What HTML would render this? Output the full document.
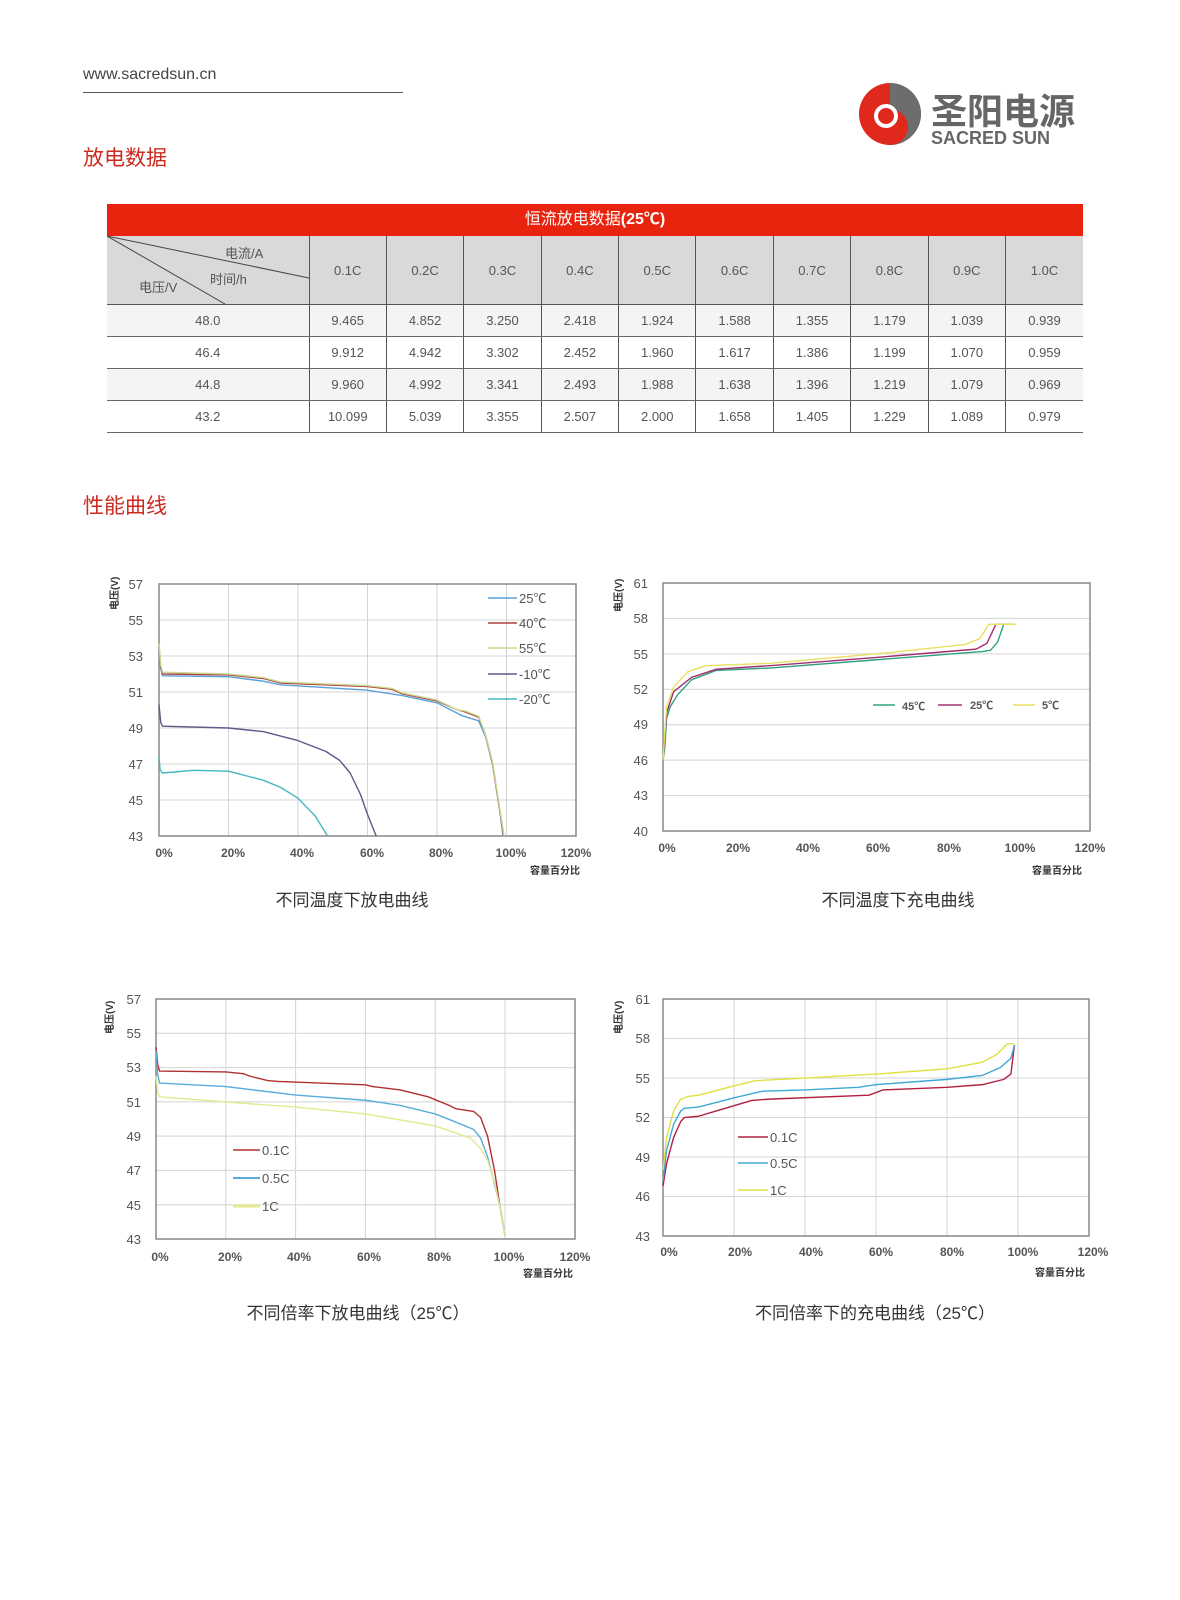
<!DOCTYPE html>
<html><head><meta charset="utf-8">
<style>
body{margin:0;background:#fff;}
#p{position:relative;width:1180px;height:1600px;overflow:hidden;font-family:"Liberation Sans","Noto Sans CJK SC",sans-serif;}
.abs{position:absolute;}
table{border-collapse:collapse;position:absolute;left:107px;top:204px;width:976px;font-size:13px;color:#555;table-layout:fixed;}
td{text-align:center;border-left:1px solid #555;padding:0;}
td:first-child{border-left:none;}
tr.r td{height:31px;border-bottom:1px solid #666;}
</style></head><body><div id="p">
<div class="abs" style="left:83px;top:66px;font-size:16px;color:#444;">www.sacredsun.cn</div>
<div class="abs" style="left:83px;top:92px;width:320px;height:1px;background:#555;"></div>
<div class="abs" style="left:83px;top:142px;font-size:21px;color:#cc2a1f;">放电数据</div>
<div class="abs" style="left:83px;top:490px;font-size:21px;color:#cc2a1f;">性能曲线</div>

<svg class="abs" style="left:0;top:0" width="1180" height="200">
 <circle cx="890" cy="114" r="31" fill="#e0281c"/>
 <path d="M890 83 A31 31 0 0 1 921 114 A31 31 0 0 1 890 145 A18 18 0 0 0 890 109 Z" fill="#6d6d6d"/>
 <circle cx="886" cy="116" r="12" fill="#fff"/>
 <circle cx="886" cy="116" r="8" fill="#e0281c"/>
 <text x="931" y="124" font-size="36" font-weight="bold" fill="#666" font-family="Noto Sans CJK SC,sans-serif">圣阳电源</text>
 <text x="931" y="144" font-size="18" font-weight="bold" fill="#666" font-family="Liberation Sans,sans-serif">SACRED SUN</text>
</svg>

<div class="abs" style="left:107px;top:204px;width:976px;height:32px;background:#e8230e;color:#fff;font-size:16px;line-height:32px;text-align:center;">恒流放电数据<b>(25℃)</b></div>
<table style="top:236px;">
<colgroup><col style="width:202px"><col span="10"></colgroup>
<tr style="background:#d9d9d9"><td style="height:68px;border-bottom:1px solid #555;position:relative;">
<svg style="position:absolute;left:0;top:0" width="202" height="68"><line x1="0" y1="0" x2="202" y2="42" stroke="#444"/><line x1="0" y1="0" x2="118" y2="68" stroke="#444"/>
<text x="118" y="22" font-size="13" fill="#555">电流/A</text><text x="103" y="48" font-size="13" fill="#555">时间/h</text><text x="32" y="56" font-size="13" fill="#555">电压/V</text></svg></td>
<td style="border-bottom:1px solid #555">0.1C</td><td style="border-bottom:1px solid #555">0.2C</td><td style="border-bottom:1px solid #555">0.3C</td><td style="border-bottom:1px solid #555">0.4C</td><td style="border-bottom:1px solid #555">0.5C</td><td style="border-bottom:1px solid #555">0.6C</td><td style="border-bottom:1px solid #555">0.7C</td><td style="border-bottom:1px solid #555">0.8C</td><td style="border-bottom:1px solid #555">0.9C</td><td style="border-bottom:1px solid #555">1.0C</td></tr>
<tr class="r" style="background:#f4f4f4"><td>48.0</td><td>9.465</td><td>4.852</td><td>3.250</td><td>2.418</td><td>1.924</td><td>1.588</td><td>1.355</td><td>1.179</td><td>1.039</td><td>0.939</td></tr>
<tr class="r"><td>46.4</td><td>9.912</td><td>4.942</td><td>3.302</td><td>2.452</td><td>1.960</td><td>1.617</td><td>1.386</td><td>1.199</td><td>1.070</td><td>0.959</td></tr>
<tr class="r" style="background:#f4f4f4"><td>44.8</td><td>9.960</td><td>4.992</td><td>3.341</td><td>2.493</td><td>1.988</td><td>1.638</td><td>1.396</td><td>1.219</td><td>1.079</td><td>0.969</td></tr>
<tr class="r"><td>43.2</td><td>10.099</td><td>5.039</td><td>3.355</td><td>2.507</td><td>2.000</td><td>1.658</td><td>1.405</td><td>1.229</td><td>1.089</td><td>0.979</td></tr>
</table>

<svg class="abs" style="left:0;top:540px" width="1180" height="800" viewBox="0 540 1180 800" font-family="Liberation Sans,Noto Sans CJK SC,sans-serif">
<style>.g{stroke:#d4d4d4;stroke-width:1;fill:none}.f{stroke:#888;stroke-width:1.5;fill:none}.c{fill:none;stroke-width:1.4;vector-effect:non-scaling-stroke;stroke-linejoin:round}.t{font-size:13px;fill:#555}.yl{font-size:13px;fill:#555;text-anchor:end}.xl{font-size:12px;fill:#555;text-anchor:middle;font-weight:bold}.ax{font-size:10px;font-weight:bold;fill:#333}.ti{font-size:17px;fill:#333;text-anchor:middle}</style>

<!-- Chart1 -->
<g class="g"><path d="M228.5 584V836M298 584V836M367.5 584V836M437 584V836M506.5 584V836M159 620H576M159 656H576M159 692H576M159 728H576M159 764H576M159 800H576"/></g>
<rect x="159" y="584" width="417" height="252" class="f"/>
<g class="yl"><text x="143" y="589">57</text><text x="143" y="625">55</text><text x="143" y="661">53</text><text x="143" y="697">51</text><text x="143" y="733">49</text><text x="143" y="769">47</text><text x="143" y="805">45</text><text x="143" y="841">43</text></g>
<g class="xl"><text x="164" y="857">0%</text><text x="233" y="857">20%</text><text x="302" y="857">40%</text><text x="372" y="857">60%</text><text x="441" y="857">80%</text><text x="511" y="857">100%</text><text x="576" y="857">120%</text></g>
<text class="ax" x="530" y="874">容量百分比</text>
<text class="ax" transform="translate(118,610) rotate(-90)">电压(V)</text>
<g transform="translate(159,1610) scale(3.475,-18)">
<polyline class="c" stroke="#5aa0d8" points="0,53.5 0.5,52.3 1,51.9 20,51.85 30,51.6 35,51.4 60,51.1 70,50.8 80,50.4 85,49.9 87,49.7 92,49.4 94,48.5 96,47 98,44.5 99,43"/>
<polyline class="c" stroke="#b04040" points="0,53.6 0.5,52.4 1,52 20,51.95 30,51.75 35,51.5 60,51.3 67,51.15 70,50.9 80,50.5 86,50 88,49.9 92,49.6 94,48.6 96,47 98,44.5 99.2,43"/>
<polyline class="c" stroke="#c8d890" points="0,53.7 0.5,52.5 1,52.1 20,52 30,51.8 35,51.55 60,51.35 67,51.2 70,50.95 80,50.55 86,50 88,49.95 92,49.65 94,48.6 96,47.1 98,44.6 99.3,43"/>
<polyline class="c" stroke="#5a5a8a" points="0,50.3 0.5,49.3 1,49.1 20,49 30,48.8 40,48.3 48,47.7 52,47.2 55,46.5 58,45.3 60,44.2 62.5,43"/>
<polyline class="c" stroke="#40b8c0" points="0,47.4 0.3,46.7 1,46.5 10,46.65 20,46.6 30,46.1 35,45.7 40,45.1 45,44.1 48.5,43"/>
</g>
<g stroke-width="1.4"><line x1="488" y1="598" x2="517" y2="598" stroke="#5aa0d8"/><line x1="488" y1="623" x2="517" y2="623" stroke="#b04040"/><line x1="488" y1="648" x2="517" y2="648" stroke="#c8d890"/><line x1="488" y1="674" x2="517" y2="674" stroke="#5a5a8a"/><line x1="488" y1="699" x2="517" y2="699" stroke="#40b8c0"/></g>
<g class="t"><text x="519" y="603">25℃</text><text x="519" y="628">40℃</text><text x="519" y="653">55℃</text><text x="519" y="679">-10℃</text><text x="519" y="704">-20℃</text></g>
<text class="ti" x="352" y="906">不同温度下放电曲线</text>

<!-- Chart2 -->
<g class="g" stroke="#d0d0d0"><path d="M663 618.4H1090M663 653.9H1090M663 689.3H1090M663 724.7H1090M663 760.1H1090M663 795.6H1090"/></g>
<rect x="663" y="583" width="427" height="248" class="f"/>
<g class="yl"><text x="648" y="588">61</text><text x="648" y="623">58</text><text x="648" y="659">55</text><text x="648" y="694">52</text><text x="648" y="729">49</text><text x="648" y="765">46</text><text x="648" y="800">43</text><text x="648" y="836">40</text></g>
<g class="xl"><text x="667" y="852">0%</text><text x="738" y="852">20%</text><text x="808" y="852">40%</text><text x="878" y="852">60%</text><text x="949" y="852">80%</text><text x="1020" y="852">100%</text><text x="1090" y="852">120%</text></g>
<text class="ax" x="1032" y="874">容量百分比</text>
<text class="ax" transform="translate(622,612) rotate(-90)">电压(V)</text>
<g transform="translate(663,1303.4) scale(3.56,-11.81)">
<polyline class="c" stroke="#30a080" points="0,46 0.5,47 1,49.5 2,50.5 4,51.5 8,52.8 15,53.6 30,53.8 60,54.5 90,55.2 92,55.3 94,56 95.7,57.5 98,57.5"/>
<polyline class="c" stroke="#a03070" points="0,46 1,50 3,51.8 8,53 15,53.7 30,54 60,54.7 88,55.4 91,55.9 93.5,57.5 96,57.5"/>
<polyline class="c" stroke="#e8e060" points="0,46 1,50.5 3,52.2 7,53.5 12,54 30,54.2 60,55 85,55.8 89,56.3 91.5,57.5 99,57.5"/>
</g>
<g stroke-width="1.4"><line x1="873" y1="705" x2="895" y2="705" stroke="#30a080"/><line x1="938" y1="705" x2="962" y2="705" stroke="#a03070"/><line x1="1013" y1="705" x2="1035" y2="705" stroke="#e8e060"/></g>
<g style="font-size:11px;fill:#555;font-weight:bold"><text x="902" y="710">45℃</text><text x="970" y="709">25℃</text><text x="1042" y="709">5℃</text></g>
<text class="ti" x="898" y="906">不同温度下充电曲线</text>

<!-- Chart3 -->
<g class="g"><path d="M225.8 999V1239M295.6 999V1239M365.4 999V1239M435.2 999V1239M505 999V1239M156 1033.3H575M156 1067.6H575M156 1101.9H575M156 1136.1H575M156 1170.4H575M156 1204.7H575"/></g>
<rect x="156" y="999" width="419" height="240" class="f"/>
<g class="yl"><text x="141" y="1004">57</text><text x="141" y="1038">55</text><text x="141" y="1072">53</text><text x="141" y="1107">51</text><text x="141" y="1141">49</text><text x="141" y="1175">47</text><text x="141" y="1210">45</text><text x="141" y="1244">43</text></g>
<g class="xl"><text x="160" y="1261">0%</text><text x="230" y="1261">20%</text><text x="299" y="1261">40%</text><text x="369" y="1261">60%</text><text x="439" y="1261">80%</text><text x="509" y="1261">100%</text><text x="575" y="1261">120%</text></g>
<text class="ax" x="523" y="1277">容量百分比</text>
<text class="ax" transform="translate(113,1034) rotate(-90)">电压(V)</text>
<g transform="translate(156,1976.1) scale(3.49,-17.14)">
<polyline class="c" stroke="#b03030" points="0,54.2 0.5,53.2 1,52.8 20,52.75 25,52.65 27,52.5 32,52.25 35,52.2 60,52 62,51.9 70,51.7 78,51.3 84,50.8 86,50.6 91,50.45 93,50.1 95,49 97,47 98.5,45 100,43.2"/>
<polyline class="c" stroke="#5aacdc" points="0,54 0.5,52.6 1,52.1 20,51.9 40,51.4 60,51.1 70,50.8 80,50.3 85,49.9 91,49.4 93,48.9 95,47.8 97,46.2 99,44.5 100,43.2"/>
<polyline class="c" stroke="#e4e890" points="0,52.5 0.5,51.6 1,51.3 20,51 40,50.7 60,50.3 80,49.6 90,48.9 93,48.3 95,47.6 97,46.3 99,44.5 100,43.2"/>
</g>
<g stroke-width="1.4"><line x1="233" y1="1150" x2="260" y2="1150" stroke="#b03030"/><line x1="233" y1="1178" x2="260" y2="1178" stroke="#5aacdc" stroke-width="2"/><line x1="233" y1="1206" x2="260" y2="1206" stroke="#e4e890" stroke-width="3"/></g>
<g class="t"><text x="262" y="1155">0.1C</text><text x="262" y="1183">0.5C</text><text x="262" y="1211">1C</text></g>
<text class="ti" x="358" y="1319">不同倍率下放电曲线（25℃）</text>

<!-- Chart4 -->
<g class="g"><path d="M734 999V1236M805 999V1236M876 999V1236M947 999V1236M1018 999V1236M663 1038.5H1089M663 1078H1089M663 1117.5H1089M663 1157H1089M663 1196.5H1089"/></g>
<rect x="663" y="999" width="426" height="237" class="f"/>
<g class="yl"><text x="650" y="1004">61</text><text x="650" y="1043">58</text><text x="650" y="1083">55</text><text x="650" y="1122">52</text><text x="650" y="1162">49</text><text x="650" y="1201">46</text><text x="650" y="1241">43</text></g>
<g class="xl"><text x="669" y="1256">0%</text><text x="740" y="1256">20%</text><text x="811" y="1256">40%</text><text x="881" y="1256">60%</text><text x="952" y="1256">80%</text><text x="1023" y="1256">100%</text><text x="1093" y="1256">120%</text></g>
<text class="ax" x="1035" y="1276">容量百分比</text>
<text class="ax" transform="translate(622,1034) rotate(-90)">电压(V)</text>
<g transform="translate(663,1802.4) scale(3.55,-13.17)">
<polyline class="c" stroke="#b02040" points="0,46.8 1,48.5 3,50.5 5,51.7 6,52 10,52.1 15,52.5 20,52.9 25,53.3 30,53.4 58,53.7 62,54.1 80,54.3 90,54.5 96,54.9 98,55.3 99,57.5"/>
<polyline class="c" stroke="#40a8d8" points="0,47.2 1,49.5 3,51.5 5,52.5 6,52.7 10,52.8 20,53.5 28,54 40,54.1 55,54.3 60,54.5 70,54.7 80,54.9 90,55.2 95,55.8 98,56.5 99,57.5"/>
<polyline class="c" stroke="#e0e040" points="0,48 1,50.5 3,52.5 5,53.4 7,53.6 10,53.7 20,54.4 26,54.8 40,55 60,55.3 80,55.7 90,56.2 94,56.8 97,57.6 99,57.6"/>
</g>
<g stroke-width="1.4"><line x1="738" y1="1137" x2="768" y2="1137" stroke="#b02040"/><line x1="738" y1="1163" x2="768" y2="1163" stroke="#40a8d8"/><line x1="738" y1="1190" x2="768" y2="1190" stroke="#e0e040"/></g>
<g class="t"><text x="770" y="1142">0.1C</text><text x="770" y="1168">0.5C</text><text x="770" y="1195">1C</text></g>
<text class="ti" x="875" y="1319">不同倍率下的充电曲线（25℃）</text>
</svg>
</div></body></html>
